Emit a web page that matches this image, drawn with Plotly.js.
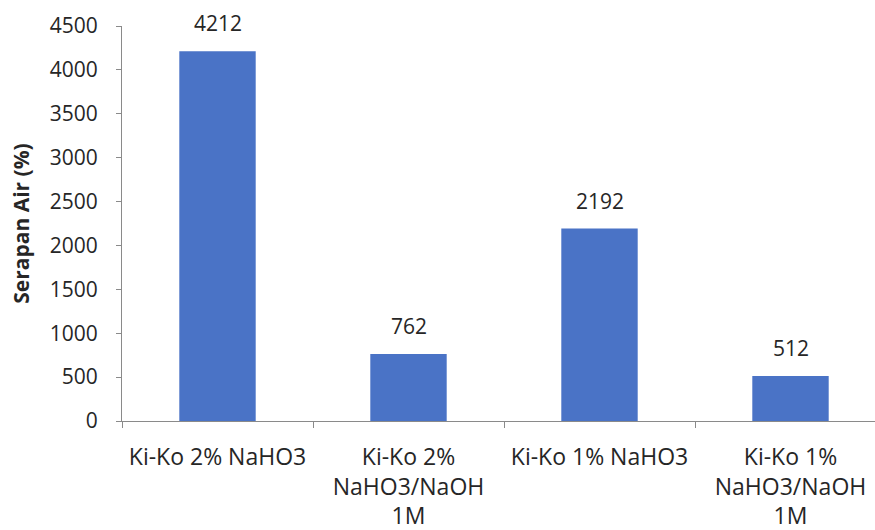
<!DOCTYPE html>
<html>
<head>
<meta charset="utf-8">
<script src="https://cdn.plot.ly/plotly-3.0.1.min.js"></script>
<style>
  html, body { margin: 0; padding: 0; background: #ffffff; }
  #chart { width: 875px; height: 530px; }
</style>
</head>
<body>
<div id="chart"></div>
<script>
// Water absorption (%) for each Ki-Ko treatment
const categories = [
  "Ki-Ko 2% NaHO3",
  "Ki-Ko 2%<br>NaHO3/NaOH<br>1M",
  "Ki-Ko 1% NaHO3",
  "Ki-Ko 1%<br>NaHO3/NaOH<br>1M"
];
const serapanAir = [4212, 762, 2192, 512];
const yTickValues = [0, 500, 1000, 1500, 2000, 2500, 3000, 3500, 4000, 4500];

const FONT = "'Open Sans', 'Noto Sans', sans-serif";
const TEXT_COLOR = "#262626";
const BAR_COLOR = "#4a73c6";
const AXIS_COLOR = "#8a8a8a";

// Plot area is 122px..875px wide; each category occupies ~191px,
// so the visible category range runs slightly past the last slot.
const plotWidth = 875 - 122;
const categoryWidth = 191;

const trace = {
  type: "bar",
  x: categories,
  y: serapanAir,
  marker: { color: BAR_COLOR },
  width: 0.4,
  hoverinfo: "x+y"
};

const valueLabels = categories.map((c, i) => ({
  x: c,
  y: serapanAir[i],
  xref: "x",
  yref: "y",
  text: String(serapanAir[i]),
  showarrow: false,
  yanchor: "bottom",
  yshift: 12,
  font: { family: FONT, size: 21, color: TEXT_COLOR }
}));

const layout = {
  width: 875,
  height: 530,
  margin: { l: 122, r: 0, t: 26, b: 109, pad: 0 },
  paper_bgcolor: "#ffffff",
  plot_bgcolor: "#ffffff",
  showlegend: false,
  bargap: 0.6,
  xaxis: {
    type: "category",
    range: [-0.5, -0.5 + plotWidth / categoryWidth],
    showgrid: false,
    zeroline: false,
    showline: true,
    linecolor: AXIS_COLOR,
    linewidth: 1,
    ticks: "outside",
    tickson: "boundaries",
    ticklen: 6,
    tickcolor: AXIS_COLOR,
    tickfont: { family: FONT, size: 23, color: TEXT_COLOR },
    ticklabelstandoff: 15,
    fixedrange: true
  },
  yaxis: {
    range: [0, 4500],
    tickmode: "array",
    tickvals: yTickValues,
    ticktext: yTickValues.map(String),
    showgrid: false,
    zeroline: false,
    showline: true,
    linecolor: AXIS_COLOR,
    linewidth: 1,
    ticks: "outside",
    ticklen: 5,
    tickcolor: AXIS_COLOR,
    tickfont: { family: FONT, size: 21, color: TEXT_COLOR },
    ticklabelstandoff: 14,
    title: {
      text: "Serapan Air (%)",
      font: { family: FONT, size: 21, color: TEXT_COLOR, weight: "bold" },
      standoff: 14
    },
    fixedrange: true
  },
  annotations: valueLabels
};

Plotly.newPlot("chart", [trace], layout, { displayModeBar: false, staticPlot: true });
</script>
</body>
</html>
